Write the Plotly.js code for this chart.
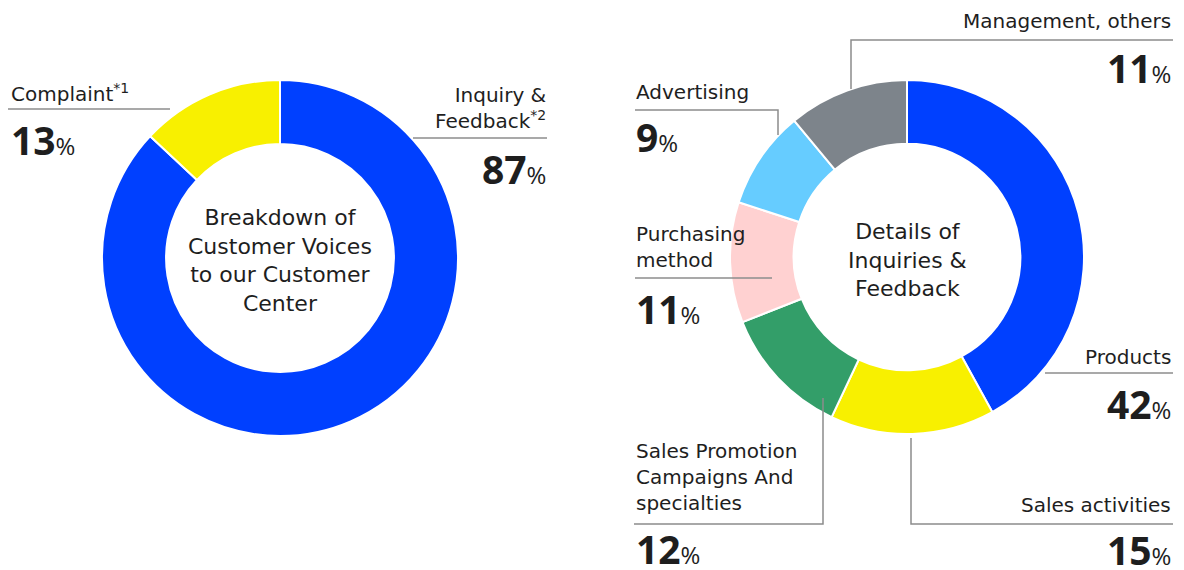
<!DOCTYPE html>
<html>
<head>
<meta charset="utf-8">
<script src="https://cdn.plot.ly/plotly-3.0.1.min.js"></script>
<style>
  html, body { margin: 0; padding: 0; background: #ffffff; }
  #chart { width: 1184px; height: 570px; }
</style>
</head>
<body>
<div id="chart"></div>
<script>
// ---------- data ----------
const voiceLabels = ['Inquiry & Feedback', 'Complaint'];
const voiceValues = [87, 13];
const voiceDisplay = ['Inquiry &<br>Feedback<sup>*2</sup>', 'Complaint<sup>*1</sup>'];
const voiceColors = ['#0040ff', '#f8f000'];
const voiceCenter = 'Breakdown of<br>Customer Voices<br>to our Customer<br>Center';

const detailLabels = ['Products', 'Sales activities', 'Sales Promotion Campaigns And specialties', 'Purchasing method', 'Advertising', 'Management, others'];
const detailValues = [42, 15, 12, 11, 9, 11];
const detailDisplay = ['Products', 'Sales activities', 'Sales Promotion<br>Campaigns And<br>specialties', 'Purchasing<br>method', 'Advertising', 'Management, others'];
const detailColors = ['#0040ff', '#f8f000', '#339e69', '#ffd1d1', '#66ccff', '#7d848b'];
const detailCenter = 'Details of<br>Inquiries &<br>Feedback';

// ---------- layout helpers (pixel -> paper) ----------
const W = 1184, H = 570;
const px = x => x / W;
const py = y => 1 - y / H;
const LABEL_FONT = 'DejaVu Sans, Open Sans, sans-serif';
const NUM_FONT = 'Open Sans, DejaVu Sans, sans-serif';
const TXT = '#1e1e1e';
const LINE = '#8c8c8c';

function domainFor(cx, cy, r) {
  return { x: [px(cx - r), px(cx + r)], y: [py(cy + r), py(cy - r)] };
}

const traces = [
  {
    type: 'pie', labels: voiceLabels, values: voiceValues, sort: false,
    direction: 'clockwise', rotation: 0, hole: 0.64,
    marker: { colors: voiceColors, line: { color: '#ffffff', width: 2 } },
    textinfo: 'none', hoverinfo: 'label+percent', showlegend: false,
    domain: domainFor(280, 258, 178)
  },
  {
    type: 'pie', labels: detailLabels, values: detailValues, sort: false,
    direction: 'clockwise', rotation: 0, hole: 0.64,
    marker: { colors: detailColors, line: { color: '#ffffff', width: 2 } },
    textinfo: 'none', hoverinfo: 'label+percent', showlegend: false,
    domain: domainFor(907, 257, 177)
  }
];

// label placements: x, y (center of label block), anchor, py (center of percent)
const voicePlace = [
  { x: 548, y: 108, anchor: 'right', py: 168 },
  { x: 9,   y: 93,  anchor: 'left',  py: 139 }
];
const detailPlace = [
  { x: 1173, y: 357, anchor: 'right', py: 403 },
  { x: 1173, y: 505, anchor: 'right', py: 549 },
  { x: 634,  y: 477, anchor: 'left',  py: 548 },
  { x: 634,  y: 247, anchor: 'left',  py: 308 },
  { x: 634,  y: 92,  anchor: 'left',  py: 137 },
  { x: 1173, y: 21,  anchor: 'right', py: 67 }
];

const annotations = [];
function addLabels(display, values, place) {
  display.forEach((lab, i) => {
    const p = place[i];
    annotations.push({
      xref: 'paper', yref: 'paper', x: px(p.x), y: py(p.y),
      xanchor: p.anchor, yanchor: 'middle', align: p.anchor,
      text: lab, showarrow: false,
      font: { family: LABEL_FONT, size: 20, color: TXT }
    });
    annotations.push({
      xref: 'paper', yref: 'paper', x: px(p.x), y: py(p.py),
      xanchor: p.anchor, yanchor: 'middle', align: p.anchor,
      text: '<b>' + values[i] + '</b><span style="font-size:24px">%</span>',
      showarrow: false,
      font: { family: NUM_FONT, size: 39, color: TXT }
    });
  });
}
addLabels(voiceDisplay, voiceValues, voicePlace);
addLabels(detailDisplay, detailValues, detailPlace);

annotations.push({
  xref: 'paper', yref: 'paper', x: px(280), y: py(260),
  xanchor: 'center', yanchor: 'middle', align: 'center',
  text: voiceCenter, showarrow: false,
  font: { family: LABEL_FONT, size: 22, color: TXT }
});
annotations.push({
  xref: 'paper', yref: 'paper', x: px(907), y: py(260),
  xanchor: 'center', yanchor: 'middle', align: 'center',
  text: detailCenter, showarrow: false,
  font: { family: LABEL_FONT, size: 22, color: TXT }
});

// leader lines (polylines in pixel coordinates)
const leaders = [
  [[8, 109], [170, 109]],
  [[413, 138], [547, 138]],
  [[1173, 40], [851, 40], [851, 89]],
  [[635, 110], [778, 110], [778, 135]],
  [[635, 278], [772, 278]],
  [[634, 524], [823, 524], [823, 398]],
  [[1173, 524], [911, 524], [911, 438]],
  [[1045, 373], [1173, 373]]
];
const shapes = leaders.map(pts => ({
  type: 'path', xref: 'paper', yref: 'paper',
  path: pts.map((p, k) => (k ? 'L' : 'M') + px(p[0]) + ',' + py(p[1])).join(' '),
  line: { color: LINE, width: 1.5 }
}));

const layout = {
  width: W, height: H,
  margin: { l: 0, r: 0, t: 0, b: 0 },
  paper_bgcolor: '#ffffff', plot_bgcolor: '#ffffff',
  showlegend: false,
  annotations: annotations,
  shapes: shapes
};

Plotly.newPlot('chart', traces, layout, { displayModeBar: false, staticPlot: true });
</script>
</body>
</html>
